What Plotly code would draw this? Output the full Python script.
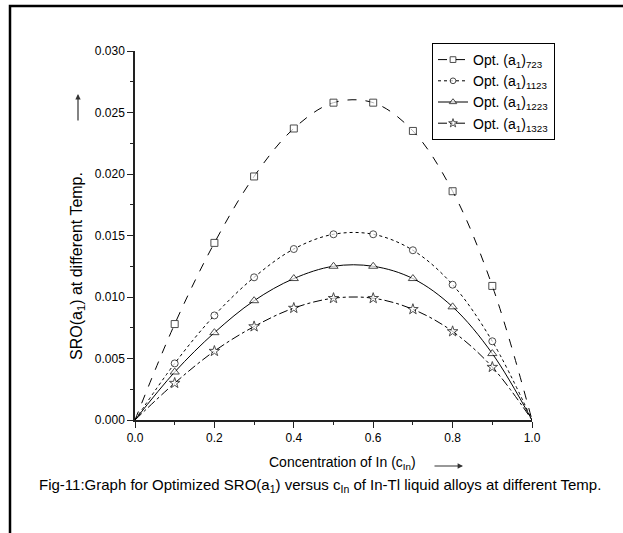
import plotly.graph_objects as go

x = [0.0, 0.1, 0.2, 0.3, 0.4, 0.5, 0.6, 0.7, 0.8, 0.9, 1.0]
a723 = [0.0, 0.0078, 0.0144, 0.0198, 0.0237, 0.0258, 0.0258, 0.0235, 0.0186, 0.0109, 0.0]
a1123 = [0.0, 0.0046, 0.0085, 0.0116, 0.0139, 0.0151, 0.0151, 0.0138, 0.0110, 0.0064, 0.0]
a1223 = [0.0, 0.0039, 0.0071, 0.0097, 0.0115, 0.0125, 0.0125, 0.0115, 0.0092, 0.0054, 0.0]
a1323 = [0.0, 0.0030, 0.0056, 0.0076, 0.0091, 0.0099, 0.0099, 0.0090, 0.0072, 0.0043, 0.0]

series = [
    ("Opt. (a<sub>1</sub>)<sub>723</sub>", a723, "dash", "square", 7),
    ("Opt. (a<sub>1</sub>)<sub>1123</sub>", a1123, "dot", "circle", 7),
    ("Opt. (a<sub>1</sub>)<sub>1223</sub>", a1223, "solid", "triangle-up", 8),
    ("Opt. (a<sub>1</sub>)<sub>1323</sub>", a1323, "dashdot", "star", 8),
]

FONT = "Liberation Sans, Arial, sans-serif"
fig = go.Figure()
for name, vals, dash, sym, ms in series:
    sizes = [0] + [ms] * (len(x) - 2) + [0]
    fig.add_trace(go.Scatter(
        x=x, y=vals, name=name, mode="lines+markers",
        line=dict(color="black", width=1, dash=dash, shape="spline", smoothing=1.0),
        marker=dict(symbol=sym, size=sizes, color="white", line=dict(width=1, color="black")),
    ))

L, R, T, B = 135, 91, 51, 113
W, H = 623, 533
pw, ph = W - L - R, H - T - B

def px(xp):
    return (xp - L) / pw

def py(yp):
    return (H - B - yp) / ph

fig.update_layout(
    width=W, height=H,
    margin=dict(l=L, r=R, t=T, b=B),
    paper_bgcolor="white", plot_bgcolor="white",
    font=dict(family=FONT, color="black", size=12),
    showlegend=True,
    legend=dict(x=px(432), y=py(43), xanchor="left", yanchor="top",
                bordercolor="black", borderwidth=1, bgcolor="white",
                font=dict(size=14, family=FONT), tracegroupgap=0, itemwidth=30),
    xaxis=dict(range=[0, 1.0], tickvals=[0, 0.2, 0.4, 0.6, 0.8, 1.0],
               ticktext=["0.0", "0.2", "0.4", "0.6", "0.8", "1.0"],
               showgrid=False, zeroline=False, showline=True, linecolor="#222", linewidth=2,
               ticks="outside", ticklen=6, tickwidth=1, tickcolor="#222",
               minor=dict(tickvals=[0.1, 0.3, 0.5, 0.7, 0.9], ticks="outside", ticklen=3, tickcolor="#222"),
               tickfont=dict(size=12)),
    yaxis=dict(range=[0, 0.030], tickvals=[0, 0.005, 0.010, 0.015, 0.020, 0.025, 0.030],
               ticktext=["0.000", "0.005", "0.010", "0.015", "0.020", "0.025", "0.030"],
               showgrid=False, zeroline=False, showline=True, linecolor="#222", linewidth=1.5,
               ticks="outside", ticklen=6, tickwidth=1, tickcolor="#222",
               minor=dict(tickvals=[0.0025, 0.0075, 0.0125, 0.0175, 0.0225, 0.0275], ticks="outside", ticklen=3, tickcolor="#222"),
               tickfont=dict(size=12)),
)

fig.add_annotation(xref="paper", yref="paper", x=px(77), y=py(266), text="SRO(a<sub>1</sub>) at different Temp.",
                   textangle=-90, showarrow=False, font=dict(size=16, family=FONT), xanchor="center", yanchor="middle")
fig.add_annotation(xref="paper", yref="paper", x=px(78), y=py(94), ax=0, ay=28, text="",
                   showarrow=True, arrowhead=2, arrowsize=0.9, arrowwidth=1.2, arrowcolor="#333")
fig.add_annotation(xref="paper", yref="paper", x=px(342), y=py(463), text="Concentration of In (c<sub>In</sub>)",
                   showarrow=False, font=dict(size=14, family=FONT), xanchor="center", yanchor="middle")
fig.add_annotation(xref="paper", yref="paper", x=px(463), y=py(466), ax=-30, ay=0, text="",
                   showarrow=True, arrowhead=2, arrowsize=0.9, arrowwidth=1.2, arrowcolor="#333")
fig.add_annotation(xref="paper", yref="paper", x=px(320), y=py(485),
                   text="Fig-11:Graph for Optimized SRO(a<sub>1</sub>) versus c<sub>In</sub> of In-Tl liquid alloys at different Temp.",
                   showarrow=False, font=dict(size=15, family=FONT), xanchor="center", yanchor="middle")

fig.add_shape(type="rect", xref="paper", yref="paper", x0=px(10), y0=py(6), x1=px(640), y1=py(560),
              line=dict(color="black", width=2.5), fillcolor="rgba(0,0,0,0)", layer="above")

fig.write_html("out.html")
